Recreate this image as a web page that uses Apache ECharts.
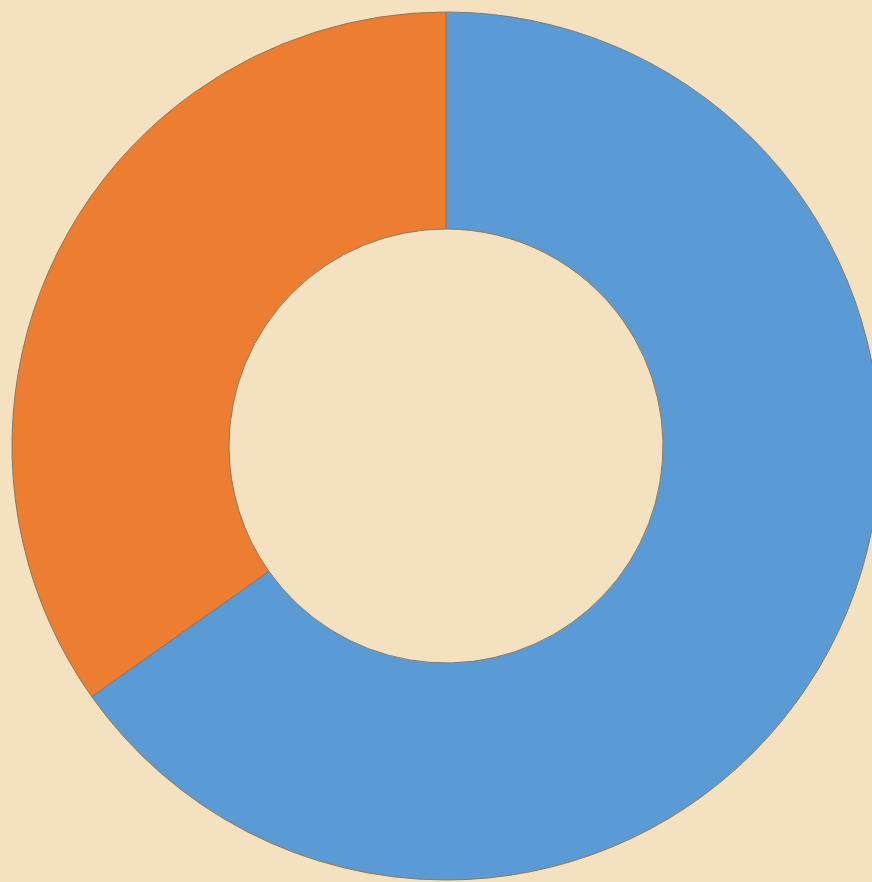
<!DOCTYPE html>
<html>
<head>
<meta charset="utf-8">
<script src="https://cdn.jsdelivr.net/npm/echarts@6/dist/echarts.min.js"></script>
<style>
  html, body { margin: 0; padding: 0; background: #f3e1bf; }
  #chart { width: 872px; height: 882px; }
</style>
</head>
<body>
<div id="chart"></div>
<script>
// 数据
const names = ["A", "B"];
const values = [65.2, 34.8];
const colors = ["#5b9bd5", "#ed7d31"];

const chart = echarts.init(document.getElementById("chart"));
chart.setOption({
  backgroundColor: "#f3e1bf",
  animation: false,
  series: [
    {
      type: "pie",
      center: [446, 446],
      radius: [217, 434],
      startAngle: 90,
      clockwise: true,
      label: { show: false },
      labelLine: { show: false },
      itemStyle: { borderColor: "#8a7a5e", borderWidth: 1 },
      data: names.map((n, i) => ({
        name: n,
        value: values[i],
        itemStyle: { color: colors[i] }
      }))
    }
  ]
});
</script>
</body>
</html>
